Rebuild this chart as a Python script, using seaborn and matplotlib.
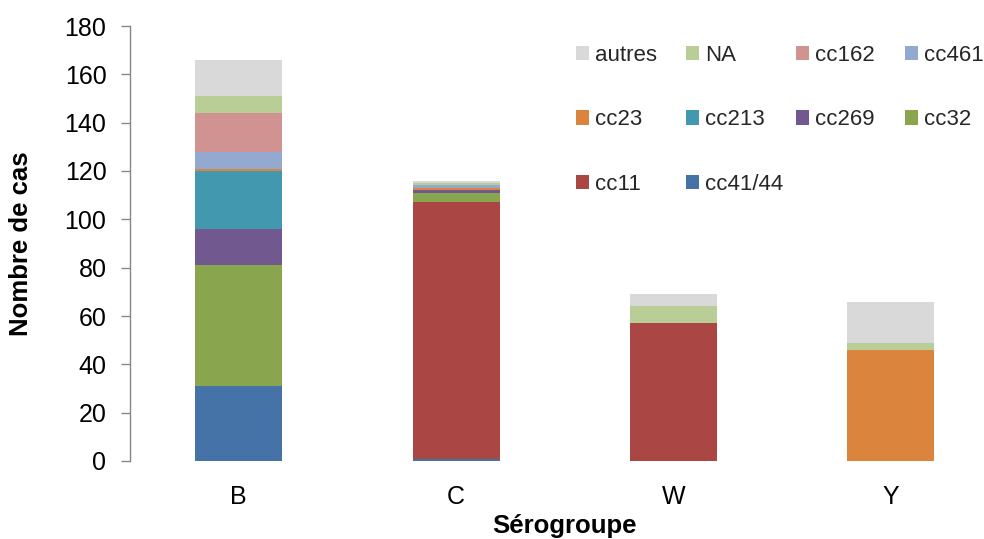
import matplotlib
matplotlib.use("Agg")
import matplotlib.pyplot as plt
from matplotlib.patches import Patch
import seaborn as sns
import numpy as np
import pandas as pd

# ---- data ----
serogroups = ["B", "C", "W", "Y"]
# stacking order: bottom -> top
clones = ["cc41/44", "cc11", "cc32", "cc269", "cc213", "cc23", "cc461", "cc162", "NA", "autres"]
cc41_44 = [31, 1, 0, 0]
cc11    = [0, 106, 57, 0]
cc32    = [50, 4, 0, 0]
cc269   = [15, 1, 0, 0]
cc213   = [24, 0, 0, 0]
cc23    = [1, 1, 0, 46]
cc461   = [7, 1, 0, 0]
cc162   = [16, 0, 0, 0]
na      = [7, 1, 7, 3]
autres  = [15, 1, 5, 17]
values = [cc41_44, cc11, cc32, cc269, cc213, cc23, cc461, cc162, na, autres]
colors = ["#4572A7", "#AA4643", "#89A54E", "#71588F", "#4198AF",
          "#DB843D", "#93A9CF", "#D19392", "#B9CD96", "#D9D9D9"]
yticks = [0, 20, 40, 60, 80, 100, 120, 140, 160, 180]
legend_columns = [["autres", "cc23", "cc11"], ["NA", "cc213", "cc41/44"],
                  ["cc162", "cc269"], ["cc461", "cc32"]]

sns.set_theme(style="white")
plt.rcParams["font.family"] = ["Liberation Sans", "DejaVu Sans"]

fig = plt.figure(figsize=(9.84, 5.39), dpi=100)
W, H = 984, 539
ax = fig.add_axes([130 / W, (539 - 461) / H, 869.6 / W, 435 / H])

cum = np.cumsum(np.array(values, dtype=float), axis=0)
# draw from top layer down so lower segments overlay
for i in range(len(clones) - 1, -1, -1):
    df = pd.DataFrame({"sero": serogroups, "n": cum[i]})
    sns.barplot(data=df, x="sero", y="n", color=colors[i], width=0.4,
                saturation=1, ax=ax, edgecolor="none", linewidth=0)

ax.set_xlim(-0.5, 3.5)
ax.set_ylim(0, 180)
ax.set_yticks(yticks)
ax.set_yticklabels([str(t) for t in yticks])

for s in ["top", "right", "bottom"]:
    ax.spines[s].set_visible(False)
ax.spines["left"].set_color("#868686")
ax.spines["left"].set_linewidth(1.0)

ax.tick_params(axis="y", which="major", length=6.5, width=1, color="#868686",
               direction="out", left=True, labelsize=18, pad=10.5, labelcolor="black")
ax.tick_params(axis="x", length=0, labelsize=18, pad=17, labelcolor="black")

ax.set_xlabel("Sérogroupe", fontsize=18.5, fontweight="bold", color="black")
ax.set_ylabel("Nombre de cas", fontsize=18.5, fontweight="bold", color="black")
ax.xaxis.set_label_coords(0.5, -0.122)
ax.yaxis.set_label_coords(-0.1115, 0.5)

# legend: one column per legend so that columns are evenly spaced as in the picture
col_x = [576, 686, 796, 905]
for xpx, col in zip(col_x, legend_columns):
    handles = [Patch(facecolor=colors[clones.index(c)], edgecolor="none", label=c) for c in col]
    fig.legend(handles=handles, loc="upper left", bbox_to_anchor=(xpx / W, 1 - 45 / H),
               ncol=1, frameon=False, fontsize=16, handlelength=0.6, handleheight=0.6,
               handletextpad=0.25, labelspacing=1.95, borderpad=0, borderaxespad=0)

fig.savefig("out.png", dpi=100)
